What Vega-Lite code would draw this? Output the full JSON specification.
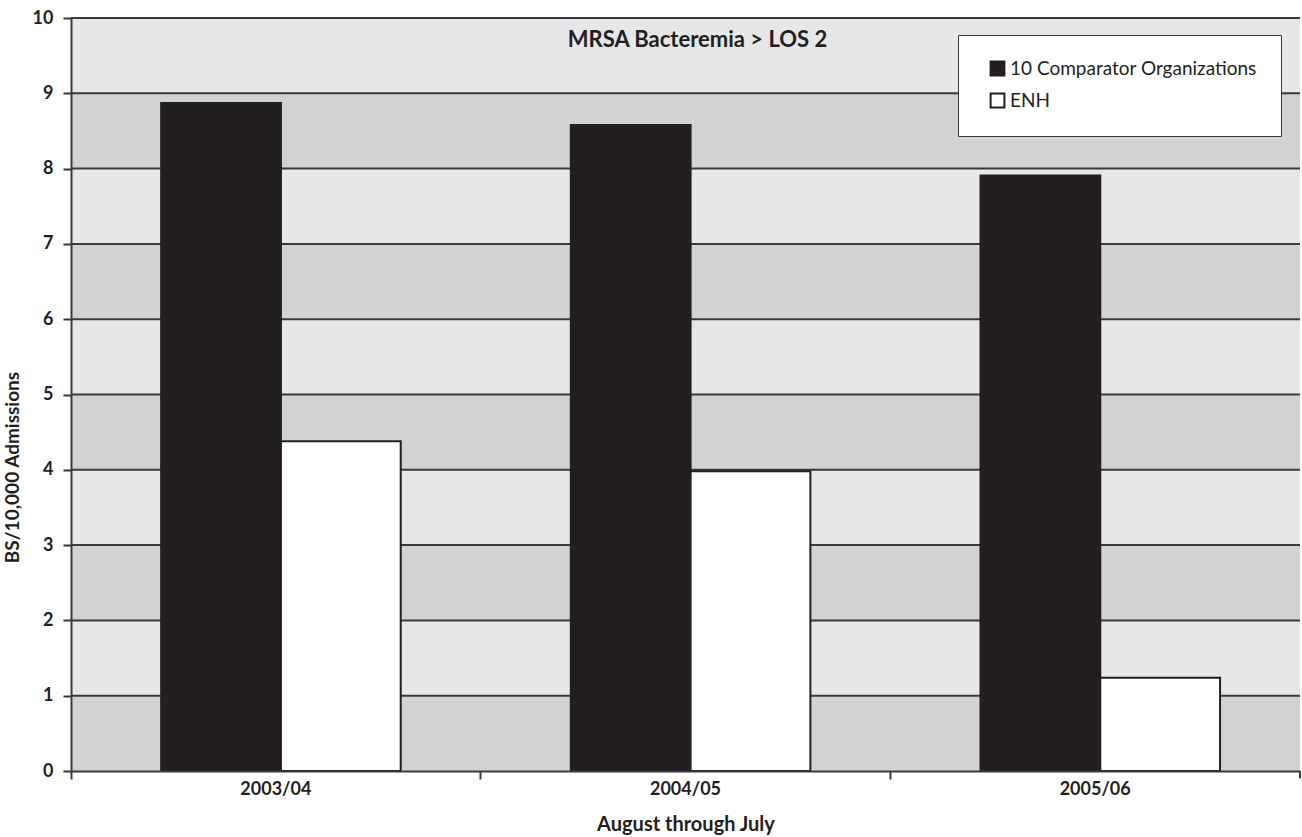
{
  "$schema": "https://vega.github.io/schema/vega-lite/v6.json",
  "width": 1229,
  "height": 753,
  "autosize": {"type": "none"},
  "padding": {"left": 71, "top": 18, "right": 2, "bottom": 66},
  "background": "#ffffff",
  "config": {
    "font": "Lato",
    "view": {"stroke": null}
  },
  "datasets": {
    "bars": [
      {"period": "2003/04", "series": "10 Comparator Organizations", "value": 8.87},
      {"period": "2003/04", "series": "ENH", "value": 4.38},
      {"period": "2004/05", "series": "10 Comparator Organizations", "value": 8.58},
      {"period": "2004/05", "series": "ENH", "value": 3.98},
      {"period": "2005/06", "series": "10 Comparator Organizations", "value": 7.91},
      {"period": "2005/06", "series": "ENH", "value": 1.24}
    ],
    "bands": [
      {"lo": 0, "hi": 1, "shade": "dark"},
      {"lo": 1, "hi": 2, "shade": "light"},
      {"lo": 2, "hi": 3, "shade": "dark"},
      {"lo": 3, "hi": 4, "shade": "light"},
      {"lo": 4, "hi": 5, "shade": "dark"},
      {"lo": 5, "hi": 6, "shade": "light"},
      {"lo": 6, "hi": 7, "shade": "dark"},
      {"lo": 7, "hi": 8, "shade": "light"},
      {"lo": 8, "hi": 9, "shade": "dark"},
      {"lo": 9, "hi": 10, "shade": "light"}
    ],
    "endtick": [{"period": "2005/06"}],
    "heading": [{"label": "MRSA Bacteremia > LOS 2"}]
  },
  "layer": [
    {
      "data": {"name": "bands"},
      "mark": {"type": "rect"},
      "encoding": {
        "y": {"field": "lo", "type": "quantitative", "scale": {"domain": [0, 10], "nice": false}},
        "y2": {"field": "hi"},
        "color": {
          "field": "shade",
          "type": "nominal",
          "scale": {"domain": ["dark", "light"], "range": ["#d1d2d4", "#e6e7e8"]},
          "legend": null
        }
      }
    },
    {
      "data": {"name": "bands"},
      "mark": {"type": "rule", "color": "#3a3a3a", "strokeWidth": 2},
      "encoding": {
        "y": {"field": "hi", "type": "quantitative"}
      }
    },
    {
      "data": {"name": "bars"},
      "mark": {"type": "bar", "stroke": "#231f20", "strokeWidth": 2},
      "encoding": {
        "x": {
          "field": "period",
          "type": "nominal",
          "scale": {"paddingInner": 0, "paddingOuter": 0},
          "axis": {
            "title": "August through July",
            "titleFontSize": 20,
            "titleFontWeight": "bold",
            "titleColor": "#231f20",
            "titlePadding": 16,
            "labelAngle": 0,
            "labelFontSize": 18,
            "labelFontWeight": "bold",
            "labelColor": "#231f20",
            "labelPadding": 1,
            "bandPosition": 0,
            "labelBound": false,
            "ticks": true,
            "tickSize": 8,
            "tickWidth": 2,
            "tickColor": "#3a3a3a",
            "domainColor": "#3a3a3a",
            "domainWidth": 2,
            "zindex": 1
          }
        },
        "xOffset": {
          "field": "series",
          "type": "nominal",
          "sort": ["10 Comparator Organizations", "ENH"],
          "scale": {"paddingInner": 0, "paddingOuter": 0.71, "align": 0.53}
        },
        "y": {
          "field": "value",
          "type": "quantitative",
          "scale": {"domain": [0, 10], "nice": false},
          "axis": {
            "title": "BS/10,000 Admissions",
            "titleFontSize": 19,
            "titleFontWeight": "bold",
            "titleColor": "#231f20",
            "titlePadding": 10,
            "titleY": 449,
            "values": [0, 1, 2, 3, 4, 5, 6, 7, 8, 9, 10],
            "format": "d",
            "labelFontSize": 18,
            "labelFontWeight": "bold",
            "labelColor": "#231f20",
            "labelPadding": 10,
            "tickSize": 8,
            "tickWidth": 2,
            "tickColor": "#3a3a3a",
            "domainColor": "#3a3a3a",
            "domainWidth": 2,
            "grid": false,
            "zindex": 1
          }
        },
        "color": {
          "field": "series",
          "type": "nominal",
          "sort": ["10 Comparator Organizations", "ENH"],
          "scale": {"domain": ["10 Comparator Organizations", "ENH"], "range": ["#231f20", "#ffffff"]},
          "legend": {
            "title": null,
            "orient": "none",
            "legendX": 887,
            "legendY": 17,
            "fillColor": "#ffffff",
            "strokeColor": "#3a3a3a",
            "padding": 24,
            "rowPadding": 9,
            "labelFontSize": 19,
            "labelColor": "#231f20",
            "labelLimit": 400,
            "symbolType": "square",
            "symbolSize": 190,
            "symbolStrokeColor": "#231f20",
            "symbolStrokeWidth": 2,
            "symbolOffset": 6,
            "labelOffset": 3
          }
        }
      }
    },
    {
      "data": {"name": "endtick"},
      "mark": {"type": "rule", "color": "#3a3a3a", "strokeWidth": 2, "clip": false},
      "encoding": {
        "x": {"field": "period", "type": "nominal", "bandPosition": 1},
        "y": {"datum": 0},
        "y2": {"datum": -0.1}
      }
    },
    {
      "data": {"name": "heading"},
      "mark": {"type": "text", "fontSize": 22, "fontWeight": "bold", "color": "#231f20", "baseline": "alphabetic", "align": "center", "dx": 12},
      "encoding": {
        "text": {"field": "label"},
        "y": {"datum": 9.62}
      }
    }
  ],
  "resolve": {"scale": {"color": "independent"}, "legend": {"color": "independent"}}
}
